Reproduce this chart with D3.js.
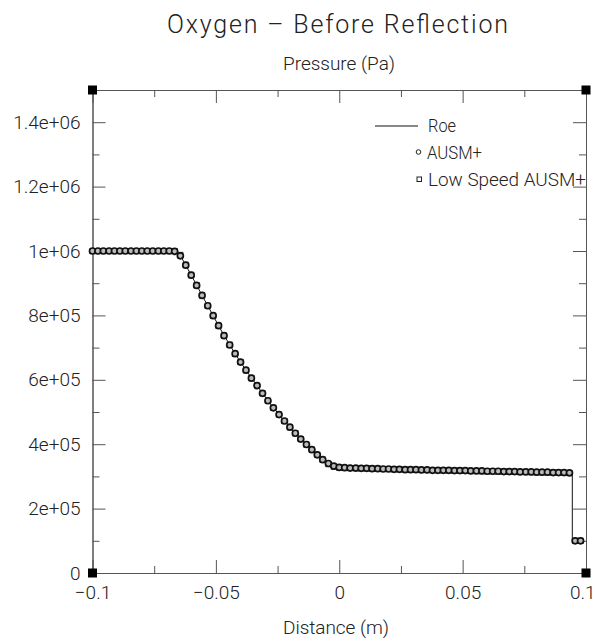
<!DOCTYPE html>
<html>
<head>
<meta charset="utf-8">
<script src="https://cdn.jsdelivr.net/npm/d3@7"></script>
<style>
  html, body { margin: 0; padding: 0; background: #fff; }
  svg { display: block; }
  text { font-family: Roboto, "Liberation Sans", Arial, sans-serif; font-weight: 300; fill: #222; }
</style>
</head>
<body>
<svg id="chart" width="595" height="642"></svg>
<script>
// ---------------- data ----------------
const title = "Oxygen \u2013 Before Reflection";
const subtitle = "Pressure (Pa)";
const xLabel = "Distance (m)";
const seriesNames = ["Roe", "AUSM+", "Low Speed AUSM+"];

const xTicks = [-0.1, -0.05, 0, 0.05, 0.1];
const xTickLabels = ["\u22120.1", "\u22120.05", "0", "0.05", "0.1"];
const xMinorTicks = [-0.075, -0.025, 0.025, 0.075];
const yTicks = [0, 2e5, 4e5, 6e5, 8e5, 1e6, 1.2e6, 1.4e6];
const yTickLabels = ["0", "2e+05", "4e+05", "6e+05", "8e+05", "1e+06", "1.2e+06", "1.4e+06"];
const yMinorTicks = [1e5, 3e5, 5e5, 7e5, 9e5, 1.1e6, 1.3e6];

const distance = [
  -0.1000, -0.0978, -0.0956, -0.0933, -0.0911, -0.0889, -0.0867, -0.0844, -0.0822, -0.0800,
  -0.0778, -0.0756, -0.0733, -0.0711, -0.0689, -0.0667, -0.0644, -0.0622, -0.0600, -0.0578,
  -0.0556, -0.0533, -0.0511, -0.0489, -0.0467, -0.0444, -0.0422, -0.0400, -0.0378, -0.0356,
  -0.0333, -0.0311, -0.0289, -0.0267, -0.0244, -0.0222, -0.0200, -0.0178, -0.0156, -0.0133,
  -0.0111, -0.0089, -0.0067, -0.0044, -0.0022, 0.0000, 0.0022, 0.0044, 0.0067, 0.0089,
  0.0111, 0.0133, 0.0156, 0.0178, 0.0200, 0.0222, 0.0244, 0.0267, 0.0289, 0.0311,
  0.0333, 0.0356, 0.0378, 0.0400, 0.0422, 0.0444, 0.0467, 0.0489, 0.0511, 0.0533,
  0.0556, 0.0578, 0.0600, 0.0622, 0.0644, 0.0667, 0.0689, 0.0711, 0.0733, 0.0756,
  0.0778, 0.0800, 0.0822, 0.0844, 0.0867, 0.0889, 0.0911, 0.0933, 0.0956, 0.0978
];

const roe = [
  1000e3, 1000e3, 1000e3, 1000e3, 1000e3, 1000e3, 1000e3, 1000e3, 1000e3, 1000e3,
  1000e3, 1000e3, 1000e3, 1000e3, 1000e3, 1000e3, 986e3, 956e3, 925e3, 894e3,
  862e3, 830e3, 799e3, 768e3, 738e3, 709e3, 681e3, 655e3, 630e3, 606e3,
  582e3, 558e3, 535e3, 513e3, 492e3, 472e3, 453e3, 434e3, 416e3, 399e3,
  383e3, 367e3, 352e3, 339e3, 331e3, 328e3, 327e3, 326e3, 326e3, 325e3,
  325e3, 324e3, 324e3, 323e3, 323e3, 322e3, 322e3, 321e3, 321e3, 321e3,
  320e3, 320e3, 320e3, 319e3, 319e3, 319e3, 318e3, 318e3, 318e3, 317e3,
  317e3, 317e3, 316e3, 316e3, 316e3, 315e3, 315e3, 315e3, 314e3, 314e3,
  314e3, 313e3, 313e3, 313e3, 312e3, 312e3, 312e3, 311e3, 100e3, 100e3
];

const ausm = [
  1000e3, 1000e3, 1000e3, 1000e3, 1000e3, 1000e3, 1000e3, 1000e3, 1000e3, 1000e3,
  1000e3, 1000e3, 1000e3, 1000e3, 1000e3, 999e3, 985e3, 956e3, 925e3, 893e3,
  862e3, 830e3, 799e3, 768e3, 737e3, 708e3, 681e3, 655e3, 630e3, 605e3,
  582e3, 558e3, 535e3, 513e3, 492e3, 472e3, 453e3, 434e3, 416e3, 399e3,
  383e3, 367e3, 352e3, 340e3, 332e3, 328e3, 327e3, 326e3, 326e3, 325e3,
  325e3, 324e3, 324e3, 323e3, 323e3, 322e3, 322e3, 321e3, 321e3, 321e3,
  320e3, 320e3, 319e3, 319e3, 319e3, 319e3, 318e3, 318e3, 318e3, 317e3,
  317e3, 317e3, 316e3, 316e3, 316e3, 315e3, 315e3, 315e3, 314e3, 314e3,
  314e3, 313e3, 313e3, 313e3, 312e3, 312e3, 312e3, 311e3, 100e3, 100e3
];

const lowSpeed = [
  1000e3, 1000e3, 1000e3, 1000e3, 1000e3, 1000e3, 1000e3, 1000e3, 1000e3, 1000e3,
  1000e3, 1000e3, 1000e3, 1000e3, 1000e3, 1000e3, 988e3, 957e3, 926e3, 894e3,
  862e3, 830e3, 799e3, 768e3, 738e3, 709e3, 681e3, 655e3, 630e3, 606e3,
  582e3, 558e3, 535e3, 513e3, 492e3, 472e3, 453e3, 434e3, 416e3, 399e3,
  383e3, 367e3, 352e3, 338e3, 330e3, 327e3, 326e3, 326e3, 325e3, 325e3,
  325e3, 324e3, 324e3, 323e3, 323e3, 322e3, 322e3, 321e3, 321e3, 320e3,
  320e3, 320e3, 320e3, 319e3, 319e3, 318e3, 318e3, 318e3, 317e3, 317e3,
  317e3, 316e3, 316e3, 316e3, 315e3, 315e3, 315e3, 314e3, 314e3, 314e3,
  313e3, 313e3, 313e3, 312e3, 312e3, 312e3, 311e3, 310e3, 100e3, 100e3
];

// ---------------- layout ----------------
const svg = d3.select("#chart");
const x = d3.scaleLinear().domain([-0.1, 0.1]).range([92.5, 586]);
const y = d3.scaleLinear().domain([0, 1.5e6]).range([573, 90]);
const axisColor = "#555";

// titles
svg.append("text").attr("x", 337.5).attr("y", 33).attr("text-anchor", "middle")
  .attr("font-size", 25).attr("textLength", 341).attr("lengthAdjust", "spacing").text(title);
svg.append("text").attr("x", 339).attr("y", 70).attr("text-anchor", "middle")
  .attr("font-size", 19).attr("textLength", 112).attr("lengthAdjust", "spacing").text(subtitle);
svg.append("text").attr("x", 336).attr("y", 634).attr("text-anchor", "middle")
  .attr("font-size", 19).attr("textLength", 106).attr("lengthAdjust", "spacing").text(xLabel);

// axes
function styleAxis(g) {
  g.select(".domain").attr("stroke", axisColor).attr("stroke-width", 1);
  g.selectAll(".tick line").attr("stroke", axisColor).attr("stroke-width", 1);
  g.selectAll(".tick text").attr("font-size", 19).attr("fill", "#222")
    .attr("font-family", 'Roboto, "Liberation Sans", Arial, sans-serif').attr("font-weight", 300);
}
const yLabelFor = d => yTickLabels[yTicks.indexOf(d)];
const xLabelFor = d => xTickLabels[xTicks.indexOf(d)];

const xAxisG = svg.append("g").attr("transform", `translate(0,${y(0)})`)
  .call(d3.axisBottom(x).tickValues(xTicks).tickFormat(xLabelFor).tickSize(-13).tickSizeOuter(0).tickPadding(13))
  .call(styleAxis);
// keep the last label inside the page edge
xAxisG.selectAll(".tick text").filter(d => d === 0.1).attr("text-anchor", "end").attr("dx", 9);

svg.append("g").attr("transform", `translate(0,${y(0)})`)
  .call(d3.axisBottom(x).tickValues(xMinorTicks).tickFormat("").tickSize(-7).tickSizeOuter(0))
  .call(styleAxis);
svg.append("g").attr("transform", `translate(0,${y(1.5e6)})`)
  .call(d3.axisTop(x).tickValues(xTicks).tickFormat("").tickSize(-13).tickSizeOuter(0))
  .call(styleAxis);
svg.append("g").attr("transform", `translate(0,${y(1.5e6)})`)
  .call(d3.axisTop(x).tickValues(xMinorTicks).tickFormat("").tickSize(-7).tickSizeOuter(0))
  .call(styleAxis);
svg.append("g").attr("transform", `translate(${x(-0.1)},0)`)
  .call(d3.axisLeft(y).tickValues(yTicks).tickFormat(yLabelFor).tickSize(-13).tickSizeOuter(0).tickPadding(12))
  .call(styleAxis);
svg.append("g").attr("transform", `translate(${x(-0.1)},0)`)
  .call(d3.axisLeft(y).tickValues(yMinorTicks).tickFormat("").tickSize(-7).tickSizeOuter(0))
  .call(styleAxis);
svg.append("g").attr("transform", `translate(${x(0.1)},0)`)
  .call(d3.axisRight(y).tickValues(yTicks).tickFormat("").tickSize(-13).tickSizeOuter(0))
  .call(styleAxis);
svg.append("g").attr("transform", `translate(${x(0.1)},0)`)
  .call(d3.axisRight(y).tickValues(yMinorTicks).tickFormat("").tickSize(-7).tickSizeOuter(0))
  .call(styleAxis);

// corner markers
const corners = [[-0.1, 0], [0.1, 0], [-0.1, 1.5e6], [0.1, 1.5e6]];
svg.append("g").selectAll("rect").data(corners).join("rect")
  .attr("x", d => x(d[0]) - 4.5).attr("y", d => y(d[1]) - 4.5)
  .attr("width", 9).attr("height", 9).attr("fill", "#000");

// Roe line
const roePts = distance.map((d, i) => [d, roe[i]]);
const shockIdx = roe.findIndex((v, i) => i > 0 && roe[i - 1] - v > 1e5);
const lineLin = d3.line().x(d => x(d[0])).y(d => y(d[1]));
const lineStep = d3.line().x(d => x(d[0])).y(d => y(d[1])).curve(d3.curveStep);
svg.append("path").attr("d", lineLin(roePts.slice(0, shockIdx)))
  .attr("fill", "none").attr("stroke", "#111").attr("stroke-width", 1);
svg.append("path").attr("d", lineStep(roePts.slice(shockIdx - 1)))
  .attr("fill", "none").attr("stroke", "#111").attr("stroke-width", 1);

// Low Speed AUSM+ squares
svg.append("g").selectAll("rect").data(distance.map((d, i) => [d, lowSpeed[i]])).join("rect")
  .attr("x", d => x(d[0]) - 2.5).attr("y", d => y(d[1]) - 2.5)
  .attr("width", 5).attr("height", 5)
  .attr("fill", "#eee").attr("stroke", "#333").attr("stroke-width", 1);

// AUSM+ circles
svg.append("g").selectAll("circle").data(distance.map((d, i) => [d, ausm[i]])).join("circle")
  .attr("cx", d => x(d[0])).attr("cy", d => y(d[1])).attr("r", 3)
  .attr("fill", "#bbb").attr("stroke", "#111").attr("stroke-width", 1.7);

// legend
const lg = svg.append("g");
lg.append("line").attr("x1", 375).attr("x2", 418).attr("y1", 126).attr("y2", 126)
  .attr("stroke", "#111").attr("stroke-width", 1);
lg.append("text").attr("x", 428).attr("y", 132).attr("font-size", 19)
  .attr("textLength", 28).attr("lengthAdjust", "spacingAndGlyphs").text(seriesNames[0]);
lg.append("circle").attr("cx", 418.5).attr("cy", 152).attr("r", 2.3)
  .attr("fill", "#fff").attr("stroke", "#222").attr("stroke-width", 1);
lg.append("text").attr("x", 427).attr("y", 159).attr("font-size", 19)
  .attr("textLength", 55).attr("lengthAdjust", "spacingAndGlyphs").text(seriesNames[1]);
lg.append("rect").attr("x", 417).attr("y", 177).attr("width", 4.5).attr("height", 4.5)
  .attr("fill", "#fff").attr("stroke", "#222").attr("stroke-width", 1);
lg.append("text").attr("x", 428).attr("y", 186).attr("font-size", 19)
  .attr("textLength", 158).attr("lengthAdjust", "spacingAndGlyphs").text(seriesNames[2]);
</script>
</body>
</html>
